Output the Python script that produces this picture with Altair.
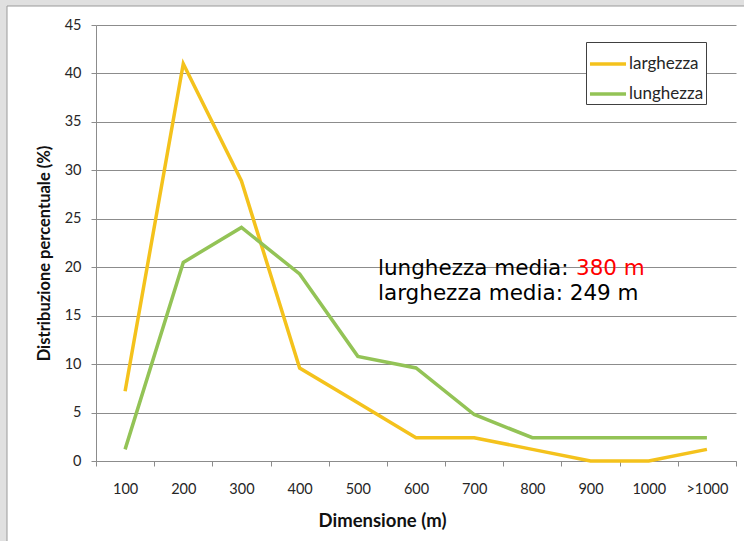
import altair as alt
import pandas as pd

categories = ["100", "200", "300", "400", "500", "600", "700", "800", "900", "1000", ">1000"]
larghezza = [7.2, 41.0, 28.9, 9.6, 6.0, 2.4, 2.4, 1.2, 0.0, 0.0, 1.2]
lunghezza = [1.2, 20.5, 24.1, 19.3, 10.8, 9.6, 4.8, 2.4, 2.4, 2.4, 2.4]
series_names = ["larghezza", "lunghezza"]
series_colors = ["#F4C21C", "#93C356"]
y_ticks = [0, 5, 10, 15, 20, 25, 30, 35, 40, 45]

note_line1_label = "lunghezza media: "
note_line1_value = "380 m"
note_line2 = "larghezza media: 249 m"

rows = []
for name, vals in zip(series_names, [larghezza, lunghezza]):
    for c, v in zip(categories, vals):
        rows.append({"Dimensione": c, "valore": v, "serie": name})
df = pd.DataFrame(rows)

W, H = 640, 436
AXIS_FONT = "Lato"
one = pd.DataFrame({"a": [0]})

# grey frame strips outside the white chart area
strip_left = alt.Chart(one).mark_rect(fill="#e0e0e0").encode(
    x=alt.value(-96), x2=alt.value(-89), y=alt.value(-25), y2=alt.value(520)
)
strip_top = alt.Chart(one).mark_rect(fill="#e0e0e0").encode(
    x=alt.value(-96), x2=alt.value(650), y=alt.value(-25), y2=alt.value(-19)
)
frame = alt.Chart(one).mark_rule(color="#9a9a9a", strokeWidth=1).encode(
    x=alt.value(-89), y=alt.value(-19), y2=alt.value(520)
)
frame_top = alt.Chart(one).mark_rule(color="#9a9a9a", strokeWidth=1).encode(
    x=alt.value(-89), x2=alt.value(650), y=alt.value(-19)
)

lines = alt.Chart(df).mark_line(strokeWidth=3.5, strokeJoin="miter").encode(
    x=alt.X(
        "Dimensione:N",
        sort=categories,
        bandPosition=0.5,
        scale=alt.Scale(type="band", domain=categories, paddingInner=0, paddingOuter=0),
        axis=alt.Axis(
            title="Dimensione (m)",
            tickBand="extent",
            labelAngle=0,
            labelFont=AXIS_FONT,
            labelFontSize=14.5,
            labelColor="#262626",
            labelPadding=16,
            tickSize=5,
            tickColor="#8c8c8c",
            domainColor="#8c8c8c",
            grid=False,
            titleFont=AXIS_FONT,
            titleFontSize=18.5,
            titleFontWeight="bold",
            titleColor="#111111",
            titleX=286,
            titleY=50,
        ),
    ),
    y=alt.Y(
        "valore:Q",
        scale=alt.Scale(domain=[0, 45], nice=False),
        axis=alt.Axis(
            title="Distribuzione percentuale (%)",
            values=y_ticks,
            labelFont=AXIS_FONT,
            labelFontSize=14.5,
            labelColor="#262626",
            labelPadding=10,
            tickSize=5,
            tickColor="#8c8c8c",
            domainColor="#8c8c8c",
            gridColor="#8c8c8c",
            gridWidth=1,
            titleFont=AXIS_FONT,
            titleFontSize=16.5,
            titleFontWeight="bold",
            titleColor="#111111",
            titlePadding=12,
            titleY=228,
        ),
    ),
    color=alt.Color(
        "serie:N",
        scale=alt.Scale(domain=series_names, range=series_colors),
        legend=alt.Legend(
            title=None,
            orient="none",
            legendX=490,
            legendY=17,
            symbolType="stroke",
            symbolSize=1300,
            symbolStrokeWidth=3.5,
            labelFont=AXIS_FONT,
            labelFontSize=17,
            labelColor="#262626",
            strokeColor="#404040",
            fillColor="white",
            padding=2,
            rowPadding=2,
            labelOffset=1,
        ),
    ),
)

FS = 21.5
t1 = alt.Chart(one).mark_text(
    align="left", baseline="alphabetic", font="DejaVu Sans", fontSize=FS, color="#000000"
).encode(x=alt.value(282), y=alt.value(250), text=alt.value(note_line1_label))
t1v = alt.Chart(one).mark_text(
    align="left", baseline="alphabetic", font="DejaVu Sans", fontSize=FS, color="#FF0000"
).encode(x=alt.value(480), y=alt.value(250), text=alt.value(note_line1_value))
t2 = alt.Chart(one).mark_text(
    align="left", baseline="alphabetic", font="DejaVu Sans", fontSize=FS, color="#000000"
).encode(x=alt.value(282), y=alt.value(275), text=alt.value(note_line2))

chart = alt.layer(strip_left, strip_top, frame, frame_top, lines, t1, t1v, t2).properties(
    width=W,
    height=H,
    background="white",
    padding={"left": 96, "top": 25, "right": 8, "bottom": 80},
    autosize=alt.AutoSizeParams(type="none"),
).configure_view(stroke=None)

chart.save("out.html", embed_options={"renderer": "svg", "actions": False})
